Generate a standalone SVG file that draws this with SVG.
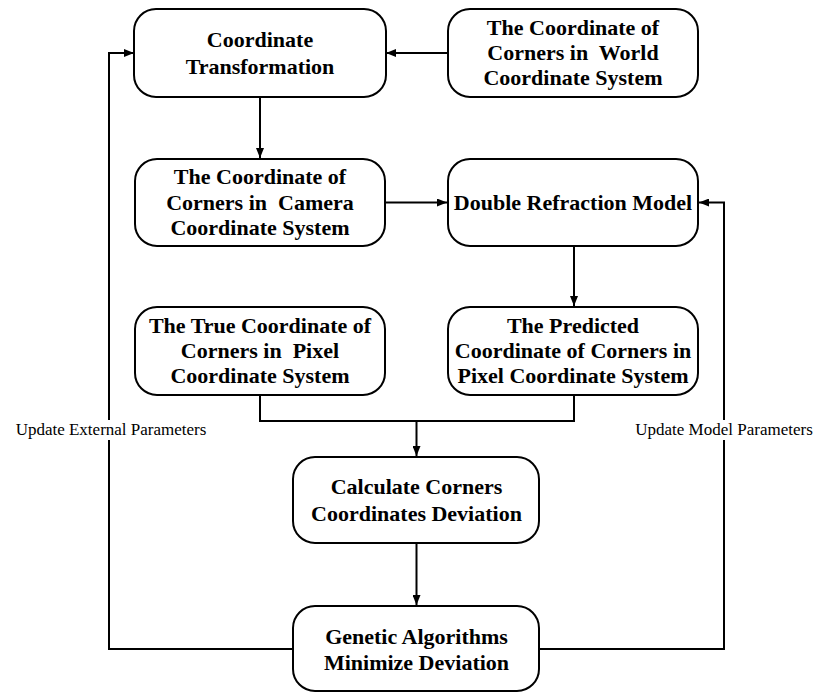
<svg xmlns="http://www.w3.org/2000/svg" width="813" height="693" viewBox="0 0 813 693">
<style>
.box{fill:#fff;stroke:#000;stroke-width:2}
.t{font-family:"Liberation Serif","Times New Roman",serif;font-weight:bold;font-size:22px;text-anchor:middle;fill:#000;white-space:pre}
.lbl{font-family:"Liberation Serif","Times New Roman",serif;font-size:17px;text-anchor:middle;fill:#000}
.c{fill:none;stroke:#000;stroke-width:2}
</style>
<defs>
<marker id="ah" markerWidth="10" markerHeight="8" refX="10" refY="4" orient="auto" markerUnits="userSpaceOnUse">
<path d="M0,0 L10,4 L0,8 Z" fill="#000"/>
</marker>
</defs>
<rect width="813" height="693" fill="#fff"/>
<g id="connectors">
<path class="c" d="M448,53 H386" marker-end="url(#ah)"/>
<path class="c" d="M293,649 H109 V53 H134" marker-end="url(#ah)"/>
<path class="c" d="M260,97 V158" marker-end="url(#ah)"/>
<path class="c" d="M385,202.5 H447" marker-end="url(#ah)"/>
<path class="c" d="M539,649 H724 V202.5 H699" marker-end="url(#ah)"/>
<path class="c" d="M574,246 V306" marker-end="url(#ah)"/>
<path class="c" d="M260,395 V421 H574 V395"/>
<path class="c" d="M416.5,421 V456" marker-end="url(#ah)"/>
<path class="c" d="M416.5,543 V605" marker-end="url(#ah)"/>
</g>
<g id="label-ext">
<rect x="14" y="420" width="195" height="20" fill="#fff"/>
<text class="lbl" x="111" y="435">Update External Parameters</text>
</g>
<g id="label-model">
<rect x="633" y="420" width="180" height="20" fill="#fff"/>
<text class="lbl" x="724" y="435">Update Model Parameters</text>
</g>
<g id="n1">
<rect class="box" x="134" y="9" width="252" height="88" rx="22"/>
<text class="t" x="260" y="47">Coordinate</text>
<text class="t" x="260" y="74">Transformation</text>
</g>
<g id="n2">
<rect class="box" x="448" y="9" width="250" height="88" rx="22"/>
<text class="t" x="573" y="35">The Coordinate of</text>
<text class="t" x="573" y="60">Corners in  World</text>
<text class="t" x="573" y="85">Coordinate System</text>
</g>
<g id="n3">
<rect class="box" x="135" y="159" width="250" height="87" rx="22"/>
<text class="t" x="260" y="184">The Coordinate of</text>
<text class="t" x="260" y="209.5">Corners in  Camera</text>
<text class="t" x="260" y="234.5">Coordinate System</text>
</g>
<g id="n4">
<rect class="box" x="448" y="159" width="250" height="87" rx="22"/>
<text class="t" x="573" y="210">Double Refraction Model</text>
</g>
<g id="n5">
<rect class="box" x="135" y="307" width="250" height="88" rx="22"/>
<text class="t" x="260" y="333">The True Coordinate of</text>
<text class="t" x="260" y="358">Corners in  Pixel</text>
<text class="t" x="260" y="383">Coordinate System</text>
</g>
<g id="n6">
<rect class="box" x="448" y="307" width="250" height="88" rx="22"/>
<text class="t" x="573" y="333">The Predicted</text>
<text class="t" x="573" y="358">Coordinate of Corners in</text>
<text class="t" x="573" y="383">Pixel Coordinate System</text>
</g>
<g id="n7">
<rect class="box" x="293" y="457" width="246" height="86" rx="22"/>
<text class="t" x="416.5" y="494">Calculate Corners</text>
<text class="t" x="416.5" y="521">Coordinates Deviation</text>
</g>
<g id="n8">
<rect class="box" x="293" y="606" width="246" height="85" rx="22"/>
<text class="t" x="416.5" y="644">Genetic Algorithms</text>
<text class="t" x="416.5" y="670">Minimize Deviation</text>
</g>
</svg>
